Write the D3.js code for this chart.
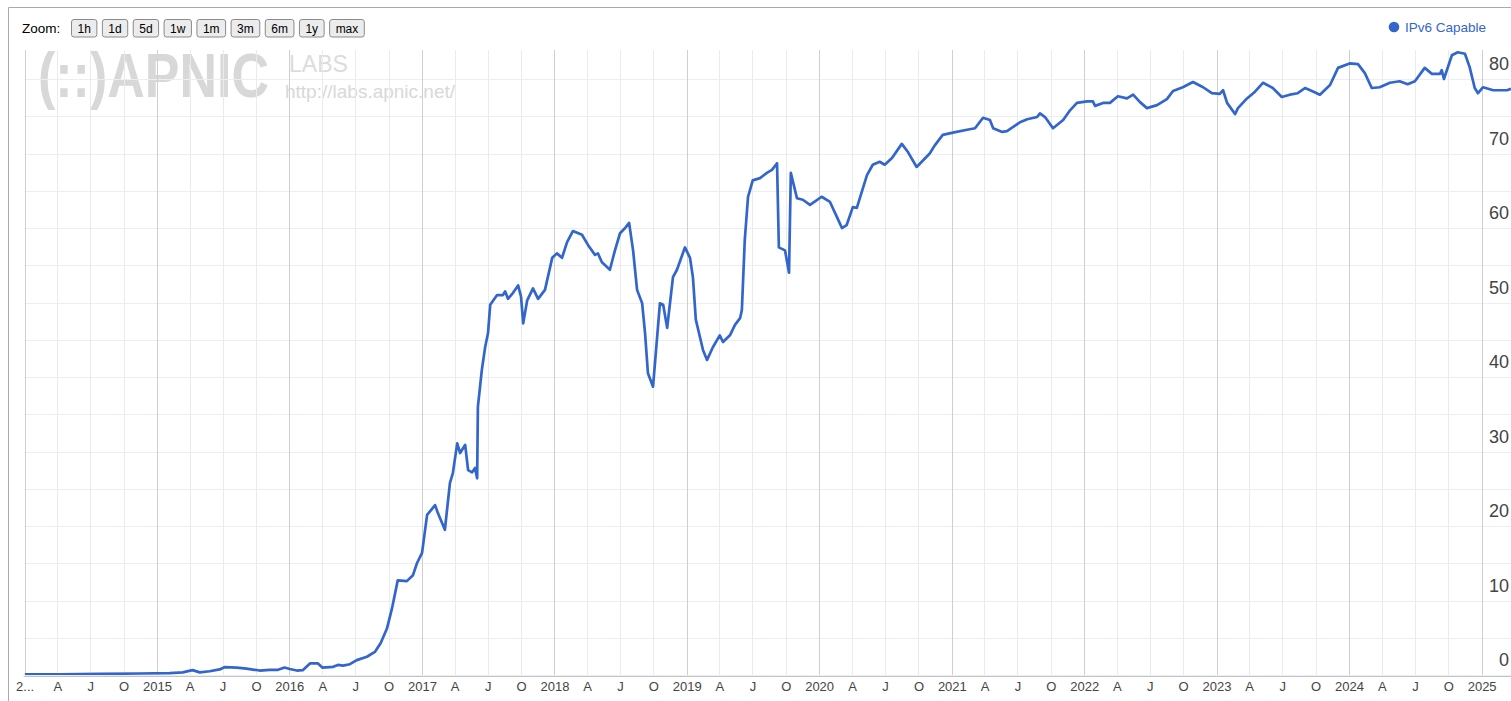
<!DOCTYPE html>
<html><head><meta charset="utf-8">
<script src="https://cdn.jsdelivr.net/npm/d3@7"></script>
<style>
body{margin:0;background:#fff;overflow:hidden}
svg{display:block;font-family:Arial,"Liberation Sans",sans-serif}
</style>
</head><body><svg id="c" width="1511" height="701"></svg>
<script>
const seriesName = "IPv6 Capable";
const dates = [
"2014-01-01","2014-04-08","2014-07-27","2014-11-14","2015-02-05","2015-03-13","2015-04-09","2015-04-29","2015-05-26","2015-06-23",
"2015-07-06","2015-08-09","2015-09-05","2015-10-11","2015-11-08","2015-12-01","2015-12-19","2016-01-02","2016-01-22","2016-02-07",
"2016-02-27","2016-03-20","2016-04-01","2016-05-01","2016-05-14","2016-05-28","2016-06-16","2016-07-05","2016-08-02","2016-08-24",
"2016-09-09","2016-09-26","2016-10-10","2016-10-26","2016-11-20","2016-12-07","2016-12-18","2017-01-01","2017-01-15","2017-02-06",
"2017-02-14","2017-03-05","2017-03-19","2017-03-27","2017-04-08","2017-04-16","2017-04-30","2017-05-08","2017-05-19","2017-05-27",
"2017-06-02","2017-06-04","2017-06-15","2017-06-24","2017-07-02","2017-07-08","2017-07-27","2017-08-12","2017-08-18","2017-08-26",
"2017-09-09","2017-09-23","2017-10-01","2017-10-07","2017-10-18","2017-11-03","2017-11-17","2017-12-06","2017-12-26","2018-01-08",
"2018-01-22","2018-02-05","2018-02-21","2018-03-18","2018-04-04","2018-04-23","2018-05-01","2018-05-12","2018-05-21","2018-06-03",
"2018-06-17","2018-07-01","2018-07-15","2018-07-26","2018-08-06","2018-08-17","2018-08-31","2018-09-08","2018-09-16","2018-09-30",
"2018-10-19","2018-10-28","2018-11-08","2018-11-24","2018-12-05","2018-12-27","2019-01-10","2019-01-18","2019-01-26","2019-02-15",
"2019-02-26","2019-03-14","2019-04-02","2019-04-11","2019-04-30","2019-05-14","2019-05-28","2019-06-02","2019-06-10","2019-06-19",
"2019-07-02","2019-07-22","2019-08-10","2019-08-24","2019-09-07","2019-09-12","2019-09-29","2019-10-10","2019-10-15","2019-11-01",
"2019-11-17","2019-12-07","2020-01-08","2020-01-31","2020-02-19","2020-03-04","2020-03-17","2020-04-03","2020-04-14","2020-05-12",
"2020-05-28","2020-06-16","2020-06-30","2020-07-20","2020-08-16","2020-09-02","2020-09-26","2020-10-10","2020-11-01","2020-11-15",
"2020-12-07","2021-01-04","2021-02-12","2021-03-06","2021-03-28","2021-04-16","2021-04-25","2021-05-20","2021-06-02","2021-07-08",
"2021-07-28","2021-08-24","2021-09-01","2021-09-15","2021-10-07","2021-11-04","2021-11-23","2021-12-12","2022-01-09","2022-01-25",
"2022-01-31","2022-02-22","2022-03-13","2022-04-04","2022-04-29","2022-05-16","2022-06-04","2022-06-23","2022-07-21","2022-08-17",
"2022-09-03","2022-09-30","2022-10-28","2022-11-25","2022-12-19","2023-01-10","2023-01-19","2023-01-30","2023-02-21","2023-03-01",
"2023-03-26","2023-04-17","2023-05-09","2023-06-05","2023-06-30","2023-07-22","2023-08-13","2023-09-02","2023-09-21","2023-10-13",
"2023-11-10","2023-12-02","2024-01-03","2024-01-26","2024-02-14","2024-03-04","2024-03-26","2024-04-23","2024-05-20","2024-06-11",
"2024-07-01","2024-07-28","2024-08-17","2024-09-08","2024-09-13","2024-09-19","2024-10-11","2024-10-27","2024-11-16","2024-11-29",
"2024-12-13","2024-12-22","2025-01-05","2025-02-02","2025-03-12","2025-03-23"
];
const values = [
0.1,0.1,0.15,0.2,0.25,0.35,0.65,0.35,0.5,0.75,
1.05,1.0,0.85,0.6,0.7,0.7,1.0,0.8,0.6,0.65,
1.55,1.55,1.0,1.1,1.35,1.25,1.45,2.0,2.45,3.1,
4.3,6.2,8.9,12.7,12.6,13.4,15,16.4,21.5,22.8,
21.7,19.5,25.8,27.1,31.1,29.8,30.9,27.5,27.2,27.8,
26.4,36.0,41,44,45.9,49.7,51,51,51.5,50.5,
51.3,52.3,50.8,47.2,50.3,51.9,50.5,51.7,56,56.6,
56,58.1,59.6,59.1,57.7,56.4,56.6,55.4,55,54.4,
57,59.3,60,60.7,57,51.7,49.9,45.9,40.5,38.7,
49.9,49.7,46.6,53.4,54.4,57.4,56,53.4,47.7,43.6,
42.3,44,45.6,44.7,45.6,47,47.9,49,58.4,64.2,
66.4,66.7,67.4,67.8,68.7,57.4,57,54,67.4,64,
63.8,63.1,64.2,63.5,61.5,60,60.4,62.8,62.7,67.1,
68.5,68.9,68.5,69.4,71.3,70.2,68.2,68.9,70,71.1,
72.5,72.8,73.2,73.4,74.8,74.5,73.4,72.9,73,74.2,
74.6,74.9,75.4,74.9,73.4,74.5,75.8,76.8,77,77,
76.4,76.8,76.8,77.7,77.4,77.9,76.9,76.1,76.5,77.3,
78.4,78.9,79.6,78.9,78.1,78,78.5,76.8,75.3,76.1,
77.4,78.3,79.5,78.8,77.6,77.9,78.1,78.8,78.4,77.9,
79.2,81.5,82.1,82,80.8,78.8,78.9,79.5,79.7,79.3,
79.7,81.5,80.7,80.7,81.2,80,83.2,83.6,83.4,81.6,
78.8,78.1,78.9,78.5,78.5,78.7
];
const yTickValues = [0,10,20,30,40,50,60,70,80];
const quarterLabels = ["", "A", "J", "O"];
const zoomButtons = ["1h","1d","5d","1w","1m","3m","6m","1y","max"];

const parse = d3.utcParse("%Y-%m-%d");
const data = dates.map((d,i)=>({date:parse(d), value:values[i]}));

const svg = d3.select("#c");
const plotLeft = 24.6, plotRight = 1511, plotTop = 50, plotBottom = 675;

const x = d3.scaleUtc().domain([parse("2014-01-01"), parse("2025-03-23")]).range([plotLeft, plotRight]);
const y = d3.scaleLinear().domain([0, 83.9]).range([plotBottom, plotTop]);

// outer frame
svg.append("path").attr("d",`M8.5,701 V7.5 H1511`).attr("fill","none").attr("stroke","#aaa");

// watermark
const wm = svg.append("g").attr("fill","#d8d8d8");
wm.append("text").attr("transform","translate(38,97) scale(1,1.2)").attr("font-size",52).attr("font-weight","bold")
  .text("(::)APNIC");
wm.append("text").attr("x",289).attr("y",72).attr("font-size",23).attr("fill","#dcdcdc").text("LABS");
wm.append("text").attr("x",285).attr("y",98).attr("font-size",19).attr("fill","#d8d8d8").text("http://labs.apnic.net/");

// gridlines
const quarterTicks = x.ticks(d3.utcMonth.every(3));
const grid = svg.append("g");
grid.selectAll("line.hg").data(d3.range(0, 84, 5)).join("line")
  .attr("x1",plotLeft).attr("x2",plotRight)
  .attr("y1",d=>Math.round(y(d))+0.5).attr("y2",d=>Math.round(y(d))+0.5)
  .attr("stroke","#ededf6");
grid.selectAll("line.vg").data(quarterTicks).join("line")
  .attr("x1",d=>Math.round(x(d))+0.5).attr("x2",d=>Math.round(x(d))+0.5)
  .attr("y1",plotTop).attr("y2",plotBottom)
  .attr("stroke",d=>d.getUTCMonth()===0 ? "#cfcfcf" : "#ebebeb");

// x axis
const xAxis = d3.axisBottom(x).tickValues(quarterTicks).tickSize(0).tickPadding(0)
  .tickFormat(d => {
    const m = d.getUTCMonth();
    if (m===0) { const s = String(d.getUTCFullYear()); return x(d) < 40 ? s[0]+"..." : s; }
    return quarterLabels[m/3];
  });
const gx = svg.append("g").attr("transform",`translate(0,${plotBottom+1})`).call(xAxis);
gx.select(".domain").remove();
gx.selectAll("text").attr("font-size",13).attr("fill","#444").attr("font-family","Arial,'Liberation Sans',sans-serif").attr("dy","1.15em");
svg.append("line").attr("x1",plotLeft-1).attr("x2",plotRight).attr("y1",plotBottom+1.5).attr("y2",plotBottom+1.5).attr("stroke","#c4c4c4");

// line
svg.append("clipPath").attr("id","clip").append("rect").attr("x",plotLeft).attr("y",plotTop-5).attr("width",plotRight-plotLeft).attr("height",plotBottom-plotTop+5);
svg.append("path").datum(data).attr("clip-path","url(#clip)")
  .attr("fill","none").attr("stroke","#3366cc").attr("stroke-width",2.7).attr("stroke-linejoin","round")
  .attr("d", d3.line().x(d=>x(d.date)).y(d=>y(d.value)));

// y labels (right, inside)
svg.append("g").selectAll("text").data(yTickValues).join("text")
  .attr("x",1509).attr("y",d=>y(d)-9).attr("text-anchor","end")
  .attr("font-size",18).attr("fill","#444").text(d=>d);

// zoom controls
svg.append("text").attr("x",22).attr("y",33).attr("font-size",13.5).attr("fill","#000").text("Zoom:");
let bx = 71;
const zb = svg.append("g");
zoomButtons.forEach(b => {
  const g = zb.append("g");
  const t = g.append("text").attr("y",32.5).attr("font-size",12).attr("fill","#000").text(b);
  const w = t.node().getComputedTextLength() + 12;
  g.insert("rect","text").attr("x",bx+0.5).attr("y",19.5).attr("width",w).attr("height",17.5).attr("rx",2.5)
    .attr("fill","#ececec").attr("stroke","#8a8a8a");
  t.attr("x",bx+0.5+w/2).attr("text-anchor","middle");
  bx += w + 5.5;
});

// legend
svg.append("circle").attr("cx",1394).attr("cy",27).attr("r",5.3).attr("fill","#3366cc");
svg.append("text").attr("x",1405).attr("y",32).attr("font-size",13.5).attr("fill","#3366cc").text(seriesName);
</script>
</body></html>
